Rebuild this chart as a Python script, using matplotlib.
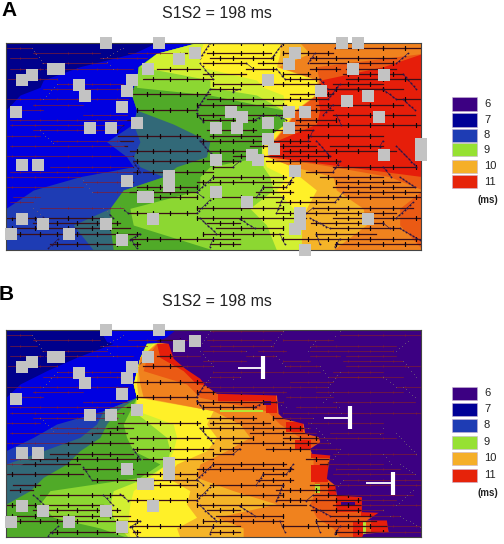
import numpy as np
import matplotlib
matplotlib.use("Agg")
import matplotlib.pyplot as plt
from matplotlib.patches import Polygon, Rectangle

plt.rcParams['font.family'] = ['Liberation Sans', 'DejaVu Sans']

W, H = 504, 544
x_left, x_right = 18, 1264
y_top, y_bottom = 128, 750

band_colors = ['#00008c', '#0000e1', '#1e3cb4', '#326978', '#50aa28', '#8cd732',
               '#d2f032', '#fff028', '#f5b428', '#f0821e', '#eb5a14', '#e61e0a']
purple = '#3c0082'

# band edges, panel A: x where each band starts on every row
rows_a = [128, 160, 200, 240, 262, 285, 330, 372, 425, 470, 500, 530, 570, 625, 675, 750]
edges_a = [
    [470, 400, 240, 130, 120, 60, 18, 18, 18, 18, 18, 18, 18, 18, 18, 18],
    [590, 470, 415, 410, 400, 395, 410, 400, 320, 380, 400, 240, 100, 18, 18, 18],
    [590, 470, 415, 410, 400, 395, 410, 400, 420, 400, 420, 490, 370, 330, 220, 280],
    [590, 470, 415, 410, 400, 395, 410, 520, 630, 620, 530, 490, 370, 330, 330, 340],
    [590, 470, 415, 410, 410, 630, 850, 855, 785, 785, 630, 600, 600, 390, 400, 640],
    [590, 470, 420, 630, 630, 770, 850, 855, 785, 785, 790, 810, 820, 750, 800, 830],
    [610, 600, 600, 770, 790, 850, 855, 858, 788, 790, 800, 860, 830, 880, 905, 905],
    [840, 840, 830, 950, 950, 945, 885, 860, 815, 800, 880, 900, 950, 920, 905, 905],
    [900, 930, 835, 955, 955, 948, 888, 862, 818, 803, 880, 1000, 1010, 1090, 1100, 1000],
    [1270, 1270, 950, 958, 958, 950, 890, 865, 820, 805, 1000, 1170, 1270, 1200, 1200, 1270],
    [1270, 1270, 1150, 962, 962, 952, 960, 950, 823, 808, 1040, 1270, 1270, 1270, 1270, 1270],
]

# band edges, panel B
rows_b = [128, 163, 168, 210, 250, 290, 330, 370, 410, 450, 490, 530, 570, 610, 650, 690, 722, 750]
edges_b = [
    [300, 320, 340, 230, 140, 60, 18, 18, 18, 18, 18, 18, 18, 18, 18, 18, 18, 18],
    [600, 600, 440, 420, 410, 400, 410, 310, 170, 100, 18, 18, 18, 18, 18, 18, 18, 18],
    [600, 600, 440, 420, 410, 400, 410, 310, 290, 240, 130, 18, 18, 18, 18, 18, 18, 18],
    [600, 600, 440, 420, 410, 400, 410, 350, 320, 300, 240, 200, 130, 90, 18, 18, 18, 18],
    [600, 600, 440, 420, 410, 400, 410, 390, 370, 380, 400, 480, 420, 150, 120, 160, 300, 380],
    [600, 600, 440, 420, 410, 400, 410, 400, 450, 500, 510, 500, 440, 340, 330, 340, 360, 385],
    [600, 600, 460, 420, 410, 400, 410, 410, 520, 530, 520, 500, 450, 400, 390, 385, 385, 390],
    [600, 600, 465, 420, 412, 410, 415, 640, 620, 650, 620, 530, 500, 570, 560, 590, 530, 540],
    [600, 600, 470, 420, 415, 420, 430, 640, 720, 750, 680, 600, 590, 700, 830, 650, 730, 730],
    [600, 600, 470, 440, 430, 560, 600, 800, 840, 900, 940, 940, 940, 950, 930, 950, 1000, 1020],
    [600, 600, 470, 480, 550, 590, 1300, 1300, 1300, 1300, 1300, 1300, 1300, 1300, 1300, 1300, 1300, 1300],
]
front_y = [128, 148, 163, 168, 213, 243, 273, 293, 318, 323, 378, 393, 408, 438, 448, 463, 483, 498,
           503, 533, 573, 593, 623, 628, 673, 675, 698, 698, 733, 738, 750]
front_x = [525, 500, 465, 505, 520, 555, 600, 615, 650, 830, 835, 850, 910, 915, 955, 960, 930, 935,
           990, 985, 980, 1005, 1010, 1085, 1085, 1135, 1100, 1160, 1165, 1090, 1085]
red_blobs = [(655, 321, 830, 341), (800, 341, 833, 378), (860, 403, 910, 433), (885, 458, 935, 485),
             (935, 498, 990, 513), (935, 533, 985, 583), (985, 593, 1010, 623), (1010, 623, 1088, 673),
             (1085, 673, 1135, 688), (1115, 698, 1165, 733), (1060, 703, 1095, 750)]
holes_b = [(790, 341, 815, 353), (1025, 643, 1065, 655)]
sliver_b = [(660, 368, 790, 373), (1090, 700, 1098, 745), (945, 590, 960, 618)]

# gray electrode squares
sq_x = [317, 476, 1027, 1075, 586, 538, 885, 869, 443, 160, 176, 97, 65, 397, 805, 1059, 1153, 238,
        381, 254, 964, 1043, 1106, 365, 49, 695, 869, 916, 727, 1137, 412, 805, 270, 333, 649, 712,
        869, 805, 822, 1263, 1263, 1153, 758, 774, 649, 65, 113, 885, 507, 507, 381, 649, 428, 444,
        743, 901, 901, 885, 65, 129, 460, 317, 1106, 33, 207, 365, 917]
sq_y = [128, 128, 128, 128, 160, 176, 160, 192, 208, 208, 208, 224, 240, 240, 240, 208, 224, 256,
        272, 288, 272, 304, 288, 320, 336, 336, 336, 336, 352, 352, 368, 368, 384, 384, 384, 384,
        384, 416, 448, 432, 464, 464, 464, 480, 480, 496, 496, 512, 527, 559, 544, 576, 591, 591,
        607, 640, 672, 688, 656, 671, 656, 671, 656, 703, 703, 719, 751]

# cable segments: row, start, end
segments = [
    (130, 630, 850), (143, 20, 95), (143, 1020, 1265), (158, 100, 300), (158, 385, 560), (158, 620, 815),
    (158, 850, 1000), (175, 30, 110), (175, 300, 440), (175, 630, 820), (175, 930, 1190), (190, 125, 320),
    (190, 610, 740), (190, 775, 860), (190, 930, 1180), (206, 30, 130), (206, 135, 400), (206, 470, 600),
    (206, 740, 830), (206, 930, 1020), (206, 1040, 1190), (222, 610, 740), (222, 850, 930), (222, 1030, 1210),
    (237, 25, 170), (237, 430, 640), (237, 855, 960), (237, 1040, 1260), (253, 170, 370), (253, 640, 960),
    (253, 1000, 1150), (268, 130, 400), (268, 630, 720), (268, 985, 1150), (268, 1020, 1210), (283, 400, 630),
    (283, 870, 1000), (298, 20, 130), (298, 130, 385), (298, 620, 985), (298, 1190, 1265), (314, 100, 250),
    (314, 590, 860), (314, 950, 1210), (329, 30, 130), (329, 410, 590), (329, 860, 1000), (345, 250, 380),
    (345, 590, 850), (345, 1000, 1245), (360, 30, 400), (360, 610, 770), (360, 890, 1010), (376, 30, 370),
    (376, 850, 1265), (391, 100, 350), (391, 620, 770), (391, 820, 940), (407, 20, 120), (407, 355, 600),
    (407, 630, 810), (407, 925, 1150), (422, 160, 400), (422, 600, 930), (438, 30, 380), (438, 750, 950),
    (438, 990, 1150), (453, 390, 600), (453, 620, 760), (453, 850, 1190), (468, 20, 400), (468, 700, 990),
    (484, 400, 640), (484, 660, 720), (484, 800, 1020), (500, 150, 400), (500, 640, 700), (500, 1000, 1250),
    (515, 30, 420), (515, 430, 640), (515, 920, 1000), (531, 20, 240), (531, 640, 860), (531, 960, 1150),
    (546, 250, 400), (546, 590, 880), (546, 1010, 1200), (561, 20, 250), (561, 410, 590), (561, 790, 860),
    (561, 1000, 1245), (577, 280, 590), (577, 770, 880), (577, 1030, 1265), (592, 40, 120), (592, 420, 590),
    (592, 630, 850), (592, 930, 1265), (607, 30, 100), (607, 830, 1005), (623, 120, 370), (623, 590, 850),
    (623, 940, 1240), (638, 385, 590), (638, 830, 1190), (654, 20, 310), (654, 590, 920), (654, 1000, 1265),
    (669, 100, 360), (669, 620, 720), (669, 935, 1150), (685, 20, 390), (685, 650, 850), (685, 990, 1200),
    (701, 20, 420), (701, 610, 850), (701, 950, 1130), (717, 390, 720), (717, 850, 1020), (717, 1020, 1265),
    (733, 150, 380), (733, 400, 420), (733, 630, 720), (733, 1005, 1265),
]

# diagonal links between cables
links = [
    (95, 143, 130, 190), (370, 143, 310, 175), (310, 175, 340, 206), (170, 253, 130, 298), (120, 391, 160, 430),
    (250, 540, 275, 577), (100, 623, 130, 650), (310, 623, 340, 654), (175, 717, 145, 745), (430, 222, 410, 240),
    (385, 640, 360, 620), (370, 376, 355, 391), (400, 484, 420, 515), (420, 701, 390, 720), (395, 720, 410, 745),
    (630, 130, 600, 175), (600, 190, 640, 237), (630, 268, 590, 329), (590, 340, 610, 365), (600, 422, 640, 468),
    (640, 531, 590, 577), (590, 577, 610, 592), (630, 600, 590, 640), (600, 654, 650, 701), (640, 717, 630, 740),
    (740, 190, 760, 206), (720, 268, 700, 275), (720, 484, 700, 500), (850, 130, 815, 175), (945, 160, 925, 190),
    (830, 206, 855, 237), (860, 360, 830, 345), (790, 345, 765, 360), (880, 531, 860, 561), (790, 561, 770, 592),
    (850, 592, 830, 640), (720, 657, 765, 685), (840, 701, 855, 733), (960, 237, 985, 268), (1020, 253, 985, 298),
    (1020, 130, 1005, 145), (1225, 160, 1190, 190), (1150, 268, 1190, 298), (1210, 222, 1250, 268),
    (1210, 298, 1245, 330), (1000, 314, 970, 345), (1010, 345, 1025, 376), (940, 391, 925, 422),
    (950, 422, 990, 468), (1150, 422, 1140, 440), (1190, 438, 1250, 500), (1020, 484, 1000, 515),
    (1150, 500, 1175, 531), (1200, 531, 1245, 561), (1030, 577, 1005, 607), (1240, 607, 1190, 654),
    (940, 623, 920, 640), (930, 654, 990, 685), (1150, 669, 1170, 685), (1200, 685, 1260, 720),
    (1020, 717, 1005, 740), (950, 701, 960, 733),
]
tick_x_odd = [60, 120, 170, 230, 290, 350, 410, 460, 510, 560, 610, 660, 700, 760, 820, 870, 900, 950, 1010, 1075, 1150, 1215]
tick_x_even = [35, 105, 205, 275, 330, 440, 480, 540, 590, 640, 725, 790, 850, 925, 985, 1045, 1110, 1180, 1250]

# part of the map where the cables are drawn dark
dark_a_y = [128, 206, 237, 280, 340, 376, 400, 470, 550, 600, 640, 654, 750]
dark_a_x = [600, 470, 430, 400, 400, 370, 340, 400, 400, 380, 370, 18, 18]
dark_b_y = [128, 203, 283, 363, 413, 493, 563, 750]
dark_b_x = [600, 430, 400, 380, 350, 130, 18, 18]

t_bars_b = [(715, 790, 241, 206, 276), (973, 1050, 391, 355, 426), (1100, 1180, 588, 553, 624)]

legend_labels = ['6', '7', '8', '9', '10', '11']
legend_colors = [purple, '#000096', '#1e3cb4', '#96e132', '#f5af28', '#e6230a']


def px_axes(fig, x0, y0, x1, y1):
    return fig.add_axes([x0 / W, 1 - y1 / H, (x1 - x0) / W, (y1 - y0) / H])


def paint_bands(ax, rows, edges):
    rows = np.array(rows)
    ax.fill_betweenx(rows, x_left, x_right + 40, color=band_colors[0], lw=0)
    for k, e in enumerate(edges):
        ax.fill_betweenx(rows, e, x_right + 40, color=band_colors[k + 1], lw=0)


def draw_network(ax, clip_xy):
    clip = Polygon(clip_xy, closed=True, transform=ax.transData)
    for y, x0, x1 in segments:
        ax.plot([x0, x1], [y, y], color='#7d1e32', lw=0.5, zorder=3)
        l, = ax.plot([x0, x1], [y, y], color='#3c0f19', lw=0.9, zorder=4)
        l.set_clip_path(clip)
        ticks = tick_x_odd if round(y / 15.5) % 2 else tick_x_even
        tx = [t for t in ticks if x0 <= t <= x1]
        ax.plot(tx, [y] * len(tx), ls='', marker='|', ms=1.6, mew=0.5, color='#7d1e32', zorder=3)
        m, = ax.plot(tx, [y] * len(tx), ls='', marker='|', ms=2.2, mew=0.9, color='#100508', zorder=5)
        m.set_clip_path(clip)
    for x0, y0, x1, y1 in links:
        n = max(int(np.hypot(x1 - x0, y1 - y0) / 9), 2)
        lx, ly = np.linspace(x0, x1, n), np.linspace(y0, y1, n)
        ax.plot(lx, ly, ls='', marker='.', ms=1.5, mew=0, color='#6e5a78', zorder=3)
        d, = ax.plot(lx, ly, ls='-', lw=0.4, marker='.', ms=2.6, mew=0, color='#28144b', zorder=5)
        d.set_clip_path(clip)


def draw_squares(ax, max_x=None):
    for x, y in zip(sq_x, sq_y):
        if max_x is not None and x > max_x:
            continue
        ax.add_patch(Rectangle((x - 18, y - 18), 36, 36, color='#c3c3c3', lw=0, zorder=6, clip_on=False))


def finish_map(ax):
    ax.set_xlim(x_left, x_right)
    ax.set_ylim(y_bottom, y_top)
    ax.set_xticks([])
    ax.set_yticks([])
    for s in ax.spines.values():
        s.set_color('#444444')
        s.set_linewidth(0.8)
        s.set_zorder(5.5)


def draw_legend(fig, ys, ms_y):
    for lab, c, yc in zip(legend_labels, legend_colors, ys):
        fig.patches.append(Rectangle((452 / W, 1 - (yc + 6.5) / H), 25 / W, 13 / H, transform=fig.transFigure,
                                     facecolor=c, edgecolor='#c8b4d2', lw=0.4))
        fig.text(484 / W, 1 - yc / H, lab, fontsize=8, va='center', ha='left', color='#222222')
    fig.text(477 / W, 1 - ms_y / H, '(ms)', fontsize=7, fontweight='bold', va='center', ha='left', color='#222222')


fig = plt.figure(figsize=(W / 100, H / 100), dpi=100)

# panel A
ax_a = px_axes(fig, 6, 42.7, 421, 250)
paint_bands(ax_a, rows_a, edges_a)
clip_a = list(zip(dark_a_x, dark_a_y)) + [(1300, 750), (1300, 128)]
draw_network(ax_a, clip_a)
draw_squares(ax_a)
finish_map(ax_a)

# panel B
ax_b = px_axes(fig, 6, 330, 421, 537.3)
paint_bands(ax_b, rows_b, edges_b)
for x0, y0, x1, y1 in red_blobs:
    ax_b.add_patch(Rectangle((x0, y0), x1 - x0, y1 - y0, color=band_colors[11], lw=0, zorder=1.5))
for x0, y0, x1, y1 in sliver_b:
    ax_b.add_patch(Rectangle((x0, y0), x1 - x0, y1 - y0, color='#b4e632', lw=0, zorder=1.5))
ax_b.fill_betweenx(front_y, front_x, x_right + 40, color=purple, lw=0, zorder=2)
for x0, y0, x1, y1 in holes_b:
    ax_b.add_patch(Rectangle((x0, y0), x1 - x0, y1 - y0, color=purple, lw=0, zorder=2))
clip_b = list(zip(dark_b_x, dark_b_y)) + list(zip(front_x[::-1], front_y[::-1]))
draw_network(ax_b, clip_b)
draw_squares(ax_b, max_x=600)
for x0, x1, yc, y0, y1 in t_bars_b:
    ax_b.plot([x0, x1], [yc, yc], color='white', lw=1.3, zorder=7, solid_capstyle='butt')
    ax_b.plot([x1, x1], [y0, y1], color='white', lw=3, zorder=7, solid_capstyle='butt')
finish_map(ax_b)

fig.text(217 / W, 1 - 14 / H, 'S1S2 = 198 ms', fontsize=11.5, ha='center', va='center', color='#222222')
fig.text(217 / W, 1 - 301 / H, 'S1S2 = 198 ms', fontsize=11.5, ha='center', va='center', color='#222222')
fig.text(1 / W, 1 - 10 / H, 'A', fontsize=15, fontweight='bold', ha='left', va='center')
fig.text(-1 / W, 1 - 295 / H, 'B', fontsize=15, fontweight='bold', ha='left', va='center')

draw_legend(fig, [104, 120, 135, 150, 166, 182], 200)
draw_legend(fig, [393, 409, 425, 442, 458, 475], 493)

fig.savefig('out.png', dpi=100)
